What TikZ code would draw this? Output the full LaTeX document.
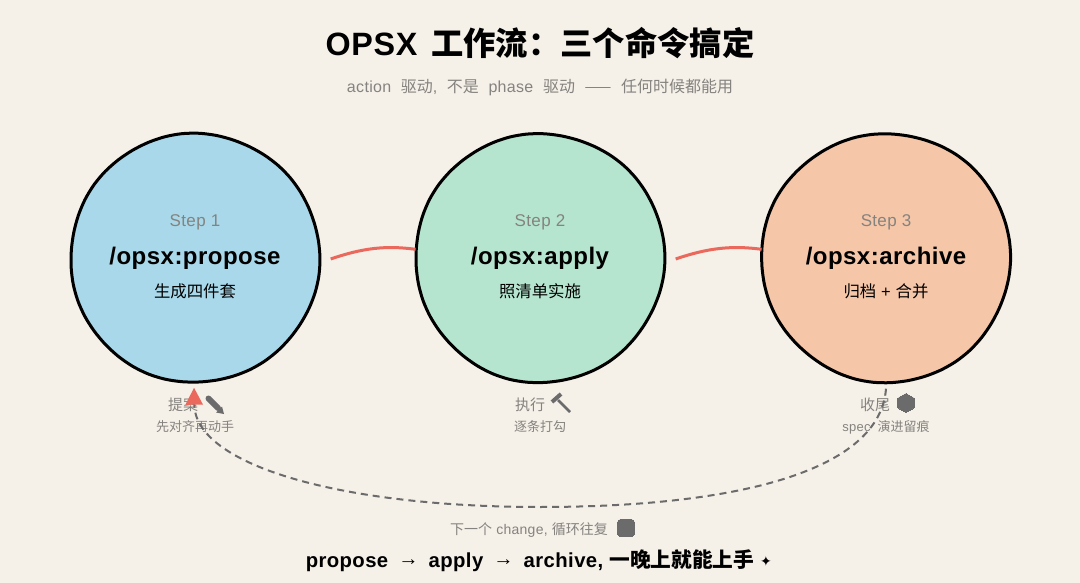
\documentclass[tikz,border=0pt]{standalone}
\usepackage{fontspec}
\setmainfont[LetterSpace=2]{Liberation Sans}
\newfontfamily\cjk{Noto Sans CJK SC}
\newfontfamily\symf{DejaVu Sans}
\newcommand{\zh}[1]{{\cjk #1}}
\newcommand{\gap}{\hspace{.6em}}
\usetikzlibrary{%
  arrows.meta,%
  shapes.geometric,%
  positioning%
}
\definecolor{paper}{HTML}{F5F0E8}
\definecolor{skyfill}{HTML}{A8D8EA}
\definecolor{mintfill}{HTML}{B5E5CF}
\definecolor{peachfill}{HTML}{F5C6A8}
\definecolor{linkred}{HTML}{EB685C}
\definecolor{mutedgray}{HTML}{85837F}
\definecolor{icongray}{HTML}{6B6B6B}

\begin{document}
\begin{tikzpicture}
  [
  x=1pt, y=-1pt, inner sep=0pt,
  stepcircle/.style={circle, minimum size=249pt},
  outline/.style={draw=black, line width=3pt},
  steplabel/.style={font=\fontsize{17}{20}\selectfont, text=mutedgray},
  command/.style={font=\fontsize{24}{28}\selectfont\bfseries, text=black},
  summary/.style={font=\fontsize{16.4}{19}\selectfont, text=black},
  action/.style={font=\fontsize{15}{18}\selectfont, text=mutedgray},
  detail/.style={font=\fontsize{13}{16}\selectfont, text=mutedgray},
  link/.style={line width=3pt, draw=linkred},
  loopback/.style={line width=2pt, draw=icongray, dash pattern=on 7pt off 5pt},
  icon/.style={draw=icongray, fill=icongray}
  ]
\useasboundingbox[fill=paper] (0,0) rectangle (1080,583);

\node[font=\fontsize{32.3}{38}\selectfont\bfseries] (title) at (540,43) {OPSX\hspace{14pt}\zh{工作流：三个命令搞定}};
\node[font=\fontsize{16}{19}\selectfont, text=mutedgray] (subtitle) at (540,87)
  {action\gap\zh{驱动},\gap\zh{不是}\gap phase\gap\zh{驱动}\gap\zh{——}\gap\zh{任何时候都能用}};

\foreach \n/\x/\col/\cmd/\desc in {%
  1/195/skyfill/propose/\zh{生成四件套},%
  2/540/mintfill/apply/\zh{照清单实施},%
  3/886/peachfill/archive/{\zh{归档} + \zh{合并}}} {
  \node[stepcircle] (c\n) at (\x,258) {};
  \draw[outline, fill=\col, shift={(c\n)}] plot[smooth cycle, domain=0:352, samples=45, variable=\t]
    ({(124.5+.35*sin(3*\t+\n*70)+.3*sin(7*\t+\n*30))*cos(\t)},{(124.5+.35*sin(3*\t+\n*70)+.3*sin(7*\t+\n*30))*sin(\t)});
  \node[steplabel] (s\n) at (\x,222) {Step \n};
  \node[command] (m\n) at (\x,258) {/opsx:\cmd};
  \node[summary] (d\n) at (\x,291) {\desc};
}

\node[action] (a1) at (183,405) {\zh{提案}};
\node[action] (a2) at (530,405) {\zh{执行}};
\node[action] (a3) at (875,405) {\zh{收尾}};
\node[detail] (b1) at (195,427) {\zh{先对齐再动手}};
\node[detail] (b2) at (540,427) {\zh{逐条打勾}};
\node[detail] (b3) at (886,427) {spec\hspace{3pt} \zh{演进留痕}};

% icons
\draw[icon, line width=6pt, line cap=round] (208.5,398.5) -- (218,408);
\fill[icongray] (216,412.5) -- (222,406.5) -- (224,414) -- cycle;
\draw[icon, line width=2.5pt] (558,400) -- (570,412);
\draw[icon, line width=4pt] (552,402) -- (561,394);
\node[icon, regular polygon, regular polygon sides=6, shape border rotate=30,
  minimum size=19pt, line width=0pt] (boxicon) at (906,403) {};
\node[icon, rectangle, rounded corners=3pt, minimum size=17pt, line width=0pt] (repeaticon) at (626,528) {};

% red links between circles
\coordinate (l1) at ([xshift=11pt,yshift=-1pt]c1.east);
\coordinate (l2) at ([xshift=11pt,yshift=-1pt]c2.east);
\draw[link] (l1) .. controls +(32,-11) and +(-30,-4) .. (c2.176);
\draw[link] (l2) .. controls +(32,-11) and +(-30,-4) .. (c3.176);

% dashed way back
\coordinate (loopstart) at ([yshift=-6pt]c3.south);
\coordinate (loopmid) at (540,507);
\coordinate (looptip) at ([xshift=-1pt,yshift=-5pt]c1.south);
\draw[loopback, -{Triangle[length=17pt, width=17pt, color=linkred]}]
  (loopstart) .. controls (880,470) and (740,507) .. (loopmid)
  .. controls (340,507) and (195,465) .. (looptip);

\node[font=\fontsize{14}{17}\selectfont, text=mutedgray] (again) at (529,530)
  {\zh{下一个} change, \zh{循环往复}};
\node[font=\fontsize{20.3}{24}\selectfont\bfseries] (closing) at (530,560.5)
  {propose\hspace{4pt} \raisebox{1.5pt}{→}\hspace{4pt} apply\hspace{4pt} \raisebox{1.5pt}{→}\hspace{4pt} archive, {\fontsize{20.7}{24}\selectfont\zh{一晚上就能上手}}};
\node[font=\fontsize{14}{16}\selectfont\symf] (spark) at (766,561.5) {✦};
\end{tikzpicture}
\end{document}
